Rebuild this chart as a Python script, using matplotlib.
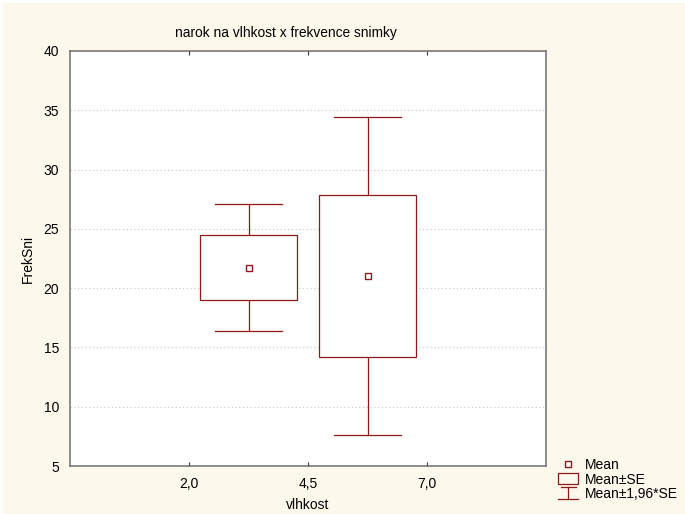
import matplotlib
matplotlib.use("Agg")
import matplotlib.pyplot as plt
from matplotlib.patches import Rectangle
import numpy as np

plt.rcParams["font.family"] = ["Liberation Sans", "DejaVu Sans"]

# data
tick_labels = ["2,0", "4,5", "7,0"]
means = [21.72, 21.02]
se = [2.74, 6.83]

red = "#8b1a1a"
cream = "#fdf8ec"

fig = plt.figure(figsize=(6.85, 5.14), dpi=100, facecolor="white")
fig.patches.append(Rectangle((3 / 685, 0), 1, 1 - 3 / 514, transform=fig.transFigure,
                             facecolor=cream, edgecolor="none", zorder=-10))

ax = fig.add_axes([70 / 685, 48 / 514, 476 / 685, 415 / 514])
ax.set_facecolor("white")

pos = np.arange(len(means)) + 1.5
box_w = 0.81
cap_w = 0.56
for x, m, s in zip(pos, means, se):
    lo, hi = m - 1.96 * s, m + 1.96 * s
    ax.plot([x, x], [lo, m - s], color=red, lw=0.9, zorder=3)
    ax.plot([x, x], [m + s, hi], color=red, lw=0.9, zorder=3)
    ax.plot([x - cap_w / 2, x + cap_w / 2], [lo, lo], color=red, lw=0.9, zorder=3)
    ax.plot([x - cap_w / 2, x + cap_w / 2], [hi, hi], color=red, lw=0.9, zorder=3)
    ax.add_patch(Rectangle((x - box_w / 2, m - s), box_w, 2 * s, facecolor="white",
                           edgecolor=red, lw=0.9, zorder=3))
    ax.plot(x, m, marker="s", ms=4.5, mfc="white", mec=red, mew=1.0, zorder=4)

ax.set_xlim(0, 4)
ax.set_ylim(5, 40)
ax.set_xticks([1, 2, 3])
ax.set_xticklabels(tick_labels)
ax.set_yticks(range(5, 41, 5))
ax.yaxis.grid(True, linestyle=(0, (1, 2)), color="#cccccc", lw=0.9)
ax.set_axisbelow(True)
ax.tick_params(axis="x", direction="in", length=3, top=True, labelsize=10, pad=8, color="#333333")
ax.tick_params(axis="y", length=0, labelsize=10, pad=8)
for sp in ax.spines.values():
    sp.set_color("#6e6e6e")
    sp.set_linewidth(1.1)

ax.set_xlabel("vlhkost", fontsize=10, labelpad=5)
ax.set_ylabel("FrekSni", fontsize=10, labelpad=6)
fig.text(286 / 685, 1 - 33 / 514, "narok na vlhkost x frekvence snimky", fontsize=9.9,
         ha="center", va="center")

# legend drawn in pixel coordinates
lg = fig.add_axes([0, 0, 1, 1], facecolor="none")
lg.set_xlim(0, 685)
lg.set_ylim(514, 0)
lg.axis("off")
lg.plot(568, 464, marker="s", ms=4.5, mfc="white", mec=red, mew=1.0)
lg.add_patch(Rectangle((558, 473), 20, 11, facecolor="none", edgecolor=red, lw=0.9))
lg.plot([568, 568], [487, 499], color=red, lw=0.9)
lg.plot([561, 576], [487, 487], color=red, lw=0.9)
lg.plot([558, 578], [499, 499], color=red, lw=0.9)
for y, t in zip([465, 480, 494], ["Mean", "Mean±SE", "Mean±1,96*SE"]):
    lg.text(585, y, t, fontsize=10, va="center", ha="left")

fig.savefig("out.png", dpi=100, facecolor=fig.get_facecolor())
